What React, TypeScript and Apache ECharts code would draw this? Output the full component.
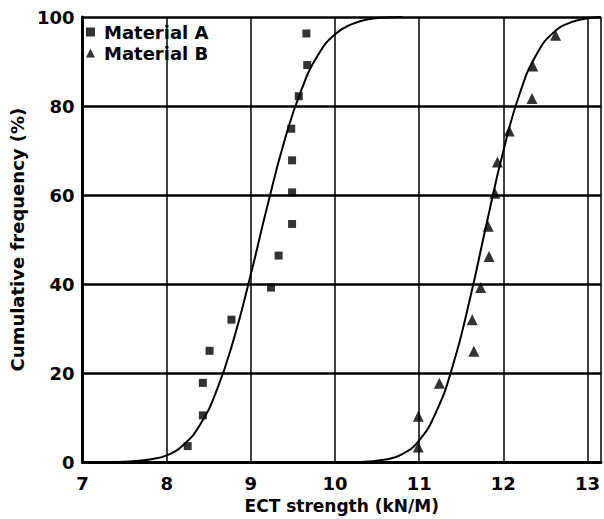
import React, { useEffect, useRef } from "react";
import * as echarts from "echarts";

const xTicks = [7, 8, 9, 10, 11, 12, 13];
const yTicks = [0, 20, 40, 60, 80, 100];

const materialAX = [8.25, 8.43, 8.43, 8.51, 8.77, 9.24, 9.33, 9.49, 9.49, 9.49, 9.48, 9.57, 9.67, 9.66];
const materialAY = [3.6, 10.5, 17.8, 25.0, 32.0, 39.2, 46.4, 53.5, 60.6, 67.8, 74.9, 82.2, 89.2, 96.3];

const materialBX = [10.99, 10.99, 11.24, 11.65, 11.63, 11.73, 11.83, 11.82, 11.9, 11.93, 12.07, 12.34, 12.35, 12.62];
const materialBY = [3.4, 10.3, 17.7, 24.9, 32.0, 39.2, 46.2, 53.0, 60.4, 67.4, 74.4, 81.7, 89.0, 95.9];

const curveAX = [7.4, 7.6, 7.8, 8.0, 8.2, 8.4, 8.6, 8.8, 9.0, 9.2, 9.4, 9.6, 9.8, 10.0, 10.2, 10.4, 10.6, 10.8];
const curveAY = [0, 0.2, 0.6, 1.5, 3.9, 8.5, 16.4, 27.8, 42.2, 57.8, 72.2, 83.6, 91.5, 96.1, 98.4, 99.5, 99.9, 100];

const curveBX = [10.3, 10.6, 10.8, 11.0, 11.2, 11.4, 11.6, 11.8, 12.0, 12.2, 12.4, 12.6, 12.8, 13.0, 13.16];
const curveBY = [0, 0.6, 1.8, 4.9, 11.2, 21.7, 36.4, 53.5, 69.9, 83.1, 91.8, 96.6, 98.8, 99.7, 100];

const FONT = "DejaVu Sans";

const zip = (xs: number[], ys: number[]) => xs.map((x, i) => [x, ys[i]]);

export default function App() {
  const ref = useRef<HTMLDivElement>(null);
  useEffect(() => {
    if (!ref.current) return;
    const chart = echarts.init(ref.current, null, { renderer: "svg" });
    const labelStyle = {
      color: "#000",
      fontFamily: FONT,
      fontWeight: "bold" as const,
      fontSize: 17,
    };
    chart.setOption({
      animation: false,
      backgroundColor: "#fff",
      grid: { left: 81, top: 17, right: -2, bottom: 46, containLabel: false },
      legend: {
        data: ["Material A", "Material B"],
        left: 86,
        top: 23,
        orient: "vertical",
        itemGap: 3,
        itemWidth: 9,
        itemHeight: 9,
        padding: 0,
        textStyle: { ...labelStyle, fontSize: 18, lineHeight: 16, padding: [0, 0, 0, 4] },
      },
      xAxis: {
        type: "value",
        min: 7,
        max: 13.16,
        interval: 1,
        name: "ECT strength (kN/M)",
        nameLocation: "middle",
        nameGap: 32,
        nameTextStyle: labelStyle,
        axisLine: { show: true, onZero: false, lineStyle: { color: "#000", width: 3 } },
        axisTick: { show: false },
        axisLabel: {
          ...labelStyle,
          fontSize: 18,
          margin: 12,
          formatter: (v: number) => (xTicks.includes(v) ? String(v) : ""),
        },
        splitLine: { show: true, lineStyle: { color: "#000", width: 1.5 } },
      },
      yAxis: {
        type: "value",
        min: 0,
        max: 100,
        interval: 20,
        name: "Cumulative frequency (%)",
        nameLocation: "middle",
        nameGap: 56,
        nameTextStyle: { ...labelStyle, fontSize: 18 },
        axisLine: { show: true, lineStyle: { color: "#000", width: 3 } },
        axisTick: { show: false },
        axisLabel: {
          ...labelStyle,
          fontSize: 18,
          margin: 8,
          formatter: (v: number) => (yTicks.includes(v) ? String(v) : ""),
        },
        splitLine: { show: true, lineStyle: { color: "#000", width: 2.5 } },
      },
      series: [
        {
          name: "Curve A",
          type: "line",
          data: zip(curveAX, curveAY),
          smooth: true,
          showSymbol: false,
          lineStyle: { color: "#000", width: 2 },
          z: 3,
        },
        {
          name: "Curve B",
          type: "line",
          data: zip(curveBX, curveBY),
          smooth: true,
          showSymbol: false,
          lineStyle: { color: "#000", width: 2 },
          z: 3,
        },
        {
          name: "Material A",
          type: "scatter",
          symbol: "rect",
          symbolSize: 8,
          itemStyle: { color: "#000" },
          data: zip(materialAX, materialAY),
          z: 4,
        },
        {
          name: "Material B",
          type: "scatter",
          symbol: "triangle",
          symbolSize: 11,
          itemStyle: { color: "#000" },
          data: zip(materialBX, materialBY),
          z: 4,
        },
      ],
    });
    return () => chart.dispose();
  }, []);
  return (
    <div
      ref={ref}
      style={{ position: "fixed", left: 0, top: 0, width: 604, height: 519, background: "#fff" }}
    />
  );
}
